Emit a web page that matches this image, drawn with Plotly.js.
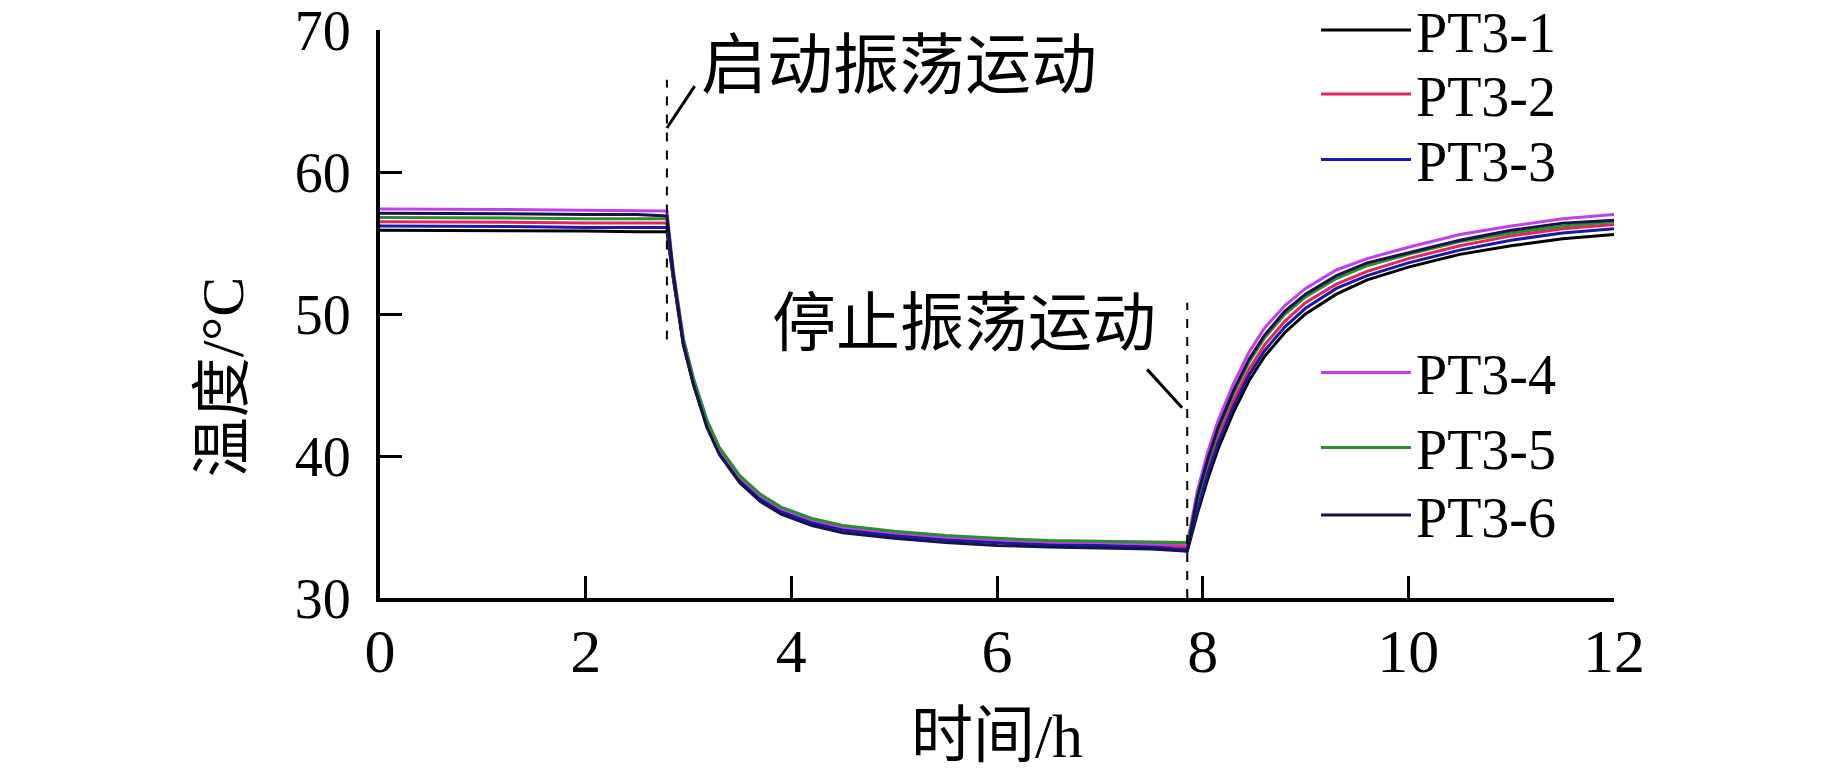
<!DOCTYPE html>
<html>
<head>
<meta charset="utf-8">
<script src="https://cdn.plot.ly/plotly-3.0.1.min.js"></script>
<style>html,body{margin:0;padding:0;background:#fff;}#chart{width:1843px;height:779px;}</style>
</head>
<body>
<div id="chart"></div>
<script>
// time in hours
const time = [0, 0.5, 1.0, 1.5, 2.0, 2.5, 2.79,
  2.85, 2.95, 3.05, 3.18, 3.3, 3.5, 3.7, 3.9, 4.2, 4.5, 5.0, 5.5, 6.0, 6.5, 7.0, 7.5, 7.85,
  7.95, 8.05, 8.15, 8.3, 8.45, 8.6, 8.8, 9.0, 9.3, 9.6, 10.0, 10.5, 11.0, 11.5, 12.0];

const pt3_1 = [55.9, 55.9, 55.9, 55.85, 55.85, 55.8, 55.8,
  52.6, 47.8, 45.0, 42.1, 40.3, 38.3, 37.0, 36.1, 35.3, 34.8, 34.4, 34.1, 33.9, 33.8, 33.7, 33.6, 33.3,
  36.0, 38.4, 40.5, 43.1, 45.3, 47.0, 48.7, 50.0, 51.4, 52.4, 53.3, 54.2, 54.8, 55.3, 55.6];
const pt3_2 = [56.5, 56.5, 56.45, 56.45, 56.4, 56.4, 56.4,
  52.8, 48.0, 45.2, 42.3, 40.4, 38.4, 37.1, 36.2, 35.4, 34.9, 34.5, 34.2, 34.0, 33.9, 33.8, 33.75, 33.6,
  36.6, 39.1, 41.3, 43.9, 46.1, 47.8, 49.5, 50.8, 52.1, 53.0, 53.9, 54.8, 55.5, 56.0, 56.3];
const pt3_3 = [56.2, 56.2, 56.15, 56.15, 56.1, 56.1, 56.1,
  52.7, 47.9, 45.1, 42.2, 40.3, 38.3, 37.0, 36.1, 35.3, 34.8, 34.4, 34.1, 33.9, 33.75, 33.7, 33.6, 33.4,
  36.3, 38.8, 40.9, 43.5, 45.7, 47.4, 49.1, 50.4, 51.8, 52.7, 53.6, 54.5, 55.2, 55.7, 56.0];
const pt3_4 = [57.4, 57.4, 57.35, 57.35, 57.3, 57.3, 57.25,
  53.2, 48.3, 45.4, 42.5, 40.5, 38.5, 37.2, 36.3, 35.5, 35.0, 34.6, 34.3, 34.1, 33.95, 33.9, 33.8, 33.8,
  37.6, 40.3, 42.5, 45.1, 47.3, 49.0, 50.6, 51.8, 53.1, 53.9, 54.7, 55.6, 56.2, 56.7, 57.0];
const pt3_5 = [56.8, 56.8, 56.75, 56.75, 56.7, 56.7, 56.7,
  53.0, 48.2, 45.4, 42.5, 40.6, 38.6, 37.3, 36.4, 35.6, 35.1, 34.7, 34.4, 34.2, 34.05, 34.0, 33.95, 33.9,
  37.0, 39.6, 41.8, 44.4, 46.6, 48.3, 50.0, 51.2, 52.5, 53.4, 54.2, 55.1, 55.7, 56.2, 56.5];
const pt3_6 = [57.1, 57.1, 57.05, 57.05, 57.0, 57.0, 56.9,
  52.9, 47.9, 45.0, 42.0, 40.1, 38.1, 36.8, 35.9, 35.1, 34.6, 34.2, 33.9, 33.7, 33.6, 33.5, 33.45, 33.3,
  37.2, 39.8, 42.0, 44.6, 46.8, 48.5, 50.2, 51.4, 52.7, 53.6, 54.3, 55.2, 55.9, 56.4, 56.6];

const seriesNames = ['PT3-1', 'PT3-2', 'PT3-3', 'PT3-4', 'PT3-5', 'PT3-6'];
const seriesValues = [pt3_1, pt3_2, pt3_3, pt3_4, pt3_5, pt3_6];
const seriesColors = ['#000000', '#e4245e', '#1a1aa0', '#c040f0', '#2e8b2e', '#16124e'];

const xTickVals = [0, 2, 4, 6, 8, 10, 12];
const yTickVals = [30, 40, 50, 60, 70];

const startTime = 2.79;
const stopTime = 7.85;
const startLabel = '启动振荡运动';
const stopLabel = '停止振荡运动';
const xTitle = '时间/h';
const yTitle = '温度/°C';

const FONT = '"Liberation Serif", "Times New Roman", "Noto Sans CJK SC", serif';

// each series gets its own legend box so the entries can sit where the reference puts them
const legendIds = ['legend', 'legend2', 'legend3', 'legend4', 'legend5', 'legend6'];
const legendY = [1.0, 0.887, 0.772, 0.397, 0.265, 0.146];

const traces = seriesNames.map((n, i) => ({
  x: time, y: seriesValues[i], name: n, type: 'scatter', mode: 'lines',
  line: {color: seriesColors[i], width: 3},
  legend: legendIds[i]
}));

const layout = {
  width: 1843, height: 779,
  margin: {l: 380, r: 229, t: 30, b: 181, autoexpand: false},
  paper_bgcolor: '#fff', plot_bgcolor: '#fff',
  font: {family: FONT, color: '#000'},
  showlegend: true,
  xaxis: {
    range: [0, 12], tickvals: xTickVals, ticktext: xTickVals.map(String),
    showgrid: false, zeroline: false, showline: true, linecolor: '#000', linewidth: 4,
    ticks: 'inside', ticklen: 22, tickwidth: 3, tickcolor: '#000',
    tickfont: {family: FONT, size: 62, color: '#000'}, ticklabelstandoff: -4,
    ticklabeloverflow: 'allow',
    title: {text: xTitle, font: {family: FONT, size: 62, color: '#000'}, standoff: 30},
    automargin: false
  },
  yaxis: {
    range: [30, 70], tickvals: yTickVals, ticktext: yTickVals.map(String),
    showgrid: false, zeroline: false, showline: true, linecolor: '#000', linewidth: 4,
    ticks: 'inside', ticklen: 22, tickwidth: 3, tickcolor: '#000',
    tickfont: {family: FONT, size: 56, color: '#000'}, ticklabelstandoff: 14,
    ticklabeloverflow: 'allow',
    automargin: false
  },
  shapes: [
    {type: 'line', xref: 'x', yref: 'y', x0: startTime, x1: startTime, y0: 48.2, y1: 66.5,
     line: {color: '#000', width: 2, dash: 'dash'}},
    {type: 'line', xref: 'x', yref: 'y', x0: startTime, x1: 3.06, y0: 63.1, y1: 66.05,
     line: {color: '#000', width: 3}},
    {type: 'line', xref: 'x', yref: 'y', x0: stopTime, x1: stopTime, y0: 30, y1: 50.8,
     line: {color: '#000', width: 2, dash: 'dash'}},
    {type: 'line', xref: 'x', yref: 'y', x0: 7.46, x1: 7.80, y0: 46.1, y1: 43.4,
     line: {color: '#000', width: 3}}
  ],
  annotations: [
    {x: 3.1, y: 67.5, xref: 'x', yref: 'y', text: startLabel, showarrow: false,
     xanchor: 'left', yanchor: 'middle', font: {family: FONT, size: 66, color: '#000'}},
    {x: 3.79, y: 49.3, xref: 'x', yref: 'y', text: stopLabel, showarrow: false,
     xanchor: 'left', yanchor: 'middle', font: {family: FONT, size: 64, color: '#000'}},
    {x: -0.127, y: 0.389, xref: 'paper', yref: 'paper', text: yTitle, showarrow: false,
     textangle: -90, xanchor: 'center', yanchor: 'middle',
     font: {family: FONT, size: 60, color: '#000'}}
  ]
};

legendIds.forEach((id, i) => {
  layout[id] = {
    x: 0.7585, y: legendY[i], xanchor: 'left', yanchor: 'middle',
    bgcolor: 'rgba(0,0,0,0)', borderwidth: 0, itemwidth: 90,
    font: {family: FONT, size: 56, color: '#000'}
  };
});

Plotly.newPlot('chart', traces, layout, {displayModeBar: false, staticPlot: true});
</script>
</body>
</html>
